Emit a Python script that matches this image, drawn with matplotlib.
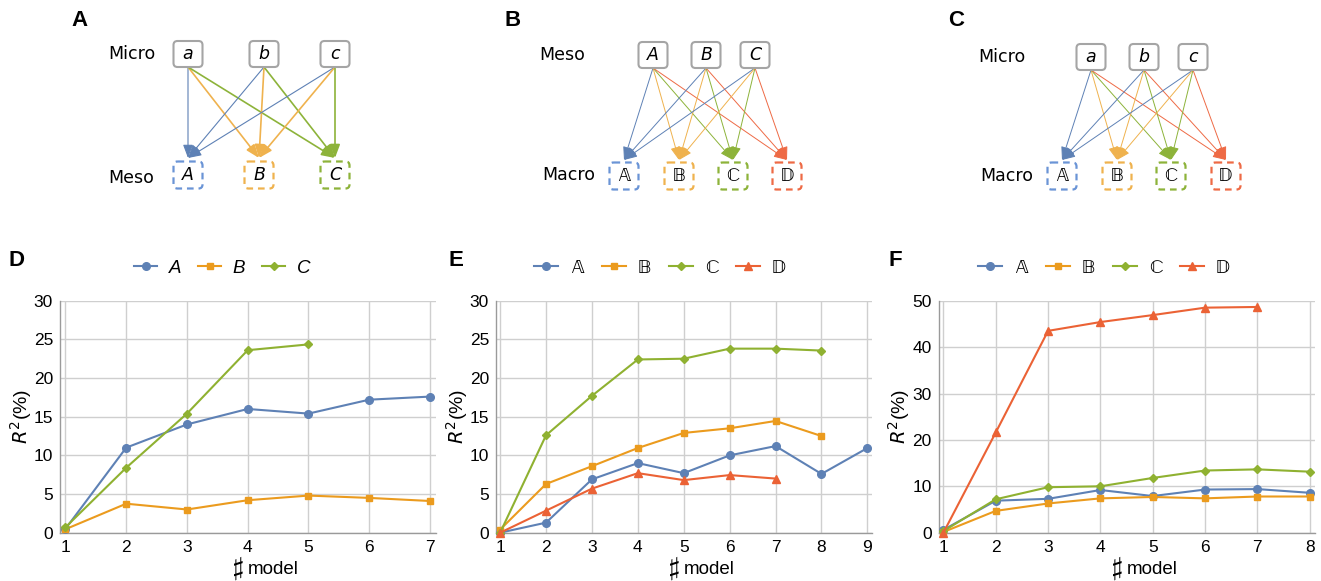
import matplotlib
matplotlib.use("Agg")
import matplotlib.pyplot as plt
from matplotlib.patches import FancyBboxPatch, FancyArrowPatch

# ---------------- data ----------------
D_x = [1, 2, 3, 4, 5, 6, 7]
D_A = [0.5, 11.0, 14.0, 16.0, 15.4, 17.2, 17.6]
D_B = [0.45, 3.75, 3.0, 4.2, 4.8, 4.5, 4.1]
D_C = [0.7, 8.4, 15.4, 23.6, 24.35]

E_x = [1, 2, 3, 4, 5, 6, 7, 8, 9]
E_A = [0.0, 1.3, 6.9, 9.0, 7.7, 10.0, 11.2, 7.6, 10.95]
E_B = [0.4, 6.3, 8.6, 10.95, 12.9, 13.5, 14.45, 12.5]
E_C = [0.0, 12.6, 17.7, 22.4, 22.5, 23.8, 23.8, 23.55]
E_D = [0.0, 2.85, 5.7, 7.7, 6.8, 7.45, 7.0]

F_x = [1, 2, 3, 4, 5, 6, 7, 8]
F_A = [0.6, 6.9, 7.3, 9.2, 7.9, 9.3, 9.4, 8.6]
F_B = [0.15, 4.7, 6.3, 7.4, 7.7, 7.4, 7.8, 7.8]
F_C = [0.35, 7.2, 9.8, 10.0, 11.8, 13.4, 13.65, 13.15]
F_D = [0.0, 21.6, 43.5, 45.4, 46.9, 48.5, 48.65]

legend_italic = ["A", "B", "C"]
legend_bb = ["\U0001D538", "\U0001D539", "\u2102", "\U0001D53B"]
top_micro = ["a", "b", "c"]
top_meso = ["A", "B", "C"]

# ---------------- style ----------------
BLUE = "#5e81b5"
ORANGE = "#eb9b1e"
GREEN = "#8fb131"
RED = "#eb6235"
LBLUE = "#6a94d6"
LORANGE = "#efb24e"
LGREEN = "#8db33a"
LRED = "#ee6a45"
GRID = "#cfcfcf"
SPINE = "#9a9a9a"

W, H = 1321, 581
fig = plt.figure(figsize=(W / 100, H / 100), dpi=100)

chart_font = ["Liberation Sans", "DejaVu Sans"]
bb_font = ["STIXGeneral", "DejaVu Sans"]


def fx(px):
    return px / W


def fy(py):
    return 1 - py / H


def make_chart(left, right, xs, series, ymax, ystep, labels, letter, letter_x, leg_cx, bb):
    ax = fig.add_axes([fx(left), fy(532.7), fx(right - left), (532.7 - 300.7) / H])
    markers = ["o", "s", "D", "^"]
    msizes = [5.5, 4.0, 4.2, 6.0]
    colors = [BLUE, ORANGE, GREEN, RED]
    handles = []
    for i, ys in enumerate(series):
        h, = ax.plot(xs[:len(ys)], ys, color=colors[i], lw=1.5, marker=markers[i],
                     ms=msizes[i], mec=colors[i], mfc=colors[i], clip_on=False, zorder=3)
        handles.append(h)
    ax.set_xlim(xs[0] - 0.09, xs[-1] + 0.1)
    ax.set_ylim(0, ymax)
    ax.set_xticks(xs)
    ax.set_yticks(list(range(0, ymax + 1, ystep)))
    ax.grid(True, color=GRID, lw=1.0)
    ax.set_axisbelow(True)
    for s in ["top", "right"]:
        ax.spines[s].set_visible(False)
    for s in ["left", "bottom"]:
        ax.spines[s].set_color(SPINE)
        ax.spines[s].set_linewidth(1.0)
    ax.tick_params(length=0, labelsize=12.5, pad=5)
    for t in ax.get_xticklabels() + ax.get_yticklabels():
        t.set_family(chart_font)
    ax.set_ylabel(r"$R^2$(%)", fontsize=14, family=chart_font, labelpad=0)
    # x label: sharp sign drawn larger, then "model"
    cx = 0.5
    ax.text(cx - 0.012, -0.16, "\u266f", transform=ax.transAxes, fontsize=18,
            family=["STIXGeneral", "DejaVu Sans"], ha="right", va="center")
    ax.text(cx - 0.0, -0.16, "model", transform=ax.transAxes, fontsize=13.5,
            family=chart_font, ha="left", va="center")
    if bb:
        prop = {"family": bb_font, "size": 14}
    else:
        prop = {"family": chart_font, "size": 13.5, "style": "italic"}
    fig.legend(handles, labels, loc="center", bbox_to_anchor=(fx(leg_cx), fy(268)),
               ncol=len(labels), frameon=False, handlelength=1.25,
               columnspacing=0.9, handletextpad=0.6, prop=prop)
    fig.text(fx(letter_x), fy(260), letter, fontsize=16, fontweight="bold",
             family=chart_font, ha="left", va="center")
    return ax


make_chart(60, 436, D_x, [D_A, D_B, D_C], 30, 5, legend_italic, "D", 8, 222, False)
make_chart(496, 872, E_x, [E_A, E_B, E_C, E_D], 30, 5, legend_bb, "E", 448, 660, True)
make_chart(938.7, 1315, F_x, [F_A, F_B, F_C, F_D], 50, 10, legend_bb, "F", 889, 1104, True)

# ---------------- diagrams ----------------
ov = fig.add_axes([0, 0, 1, 1])
ov.set_xlim(0, W)
ov.set_ylim(H, 0)
ov.axis("off")

diag_font = ["DejaVu Sans"]


def diagram(letter, letter_xy, top_label, top_label_xy, top_nodes, top_xs, top_y,
            bot_label, bot_label_xy, bot_nodes, bot_xs, bot_y, bot_colors, line_colors,
            lws, tip_y, start_dy, bb):
    ov.text(*letter_xy, letter, fontsize=16, fontweight="bold", family=["Liberation Sans"],
            ha="left", va="center")
    ov.text(*top_label_xy, top_label, fontsize=12.5, family=diag_font, ha="left", va="center")
    ov.text(*bot_label_xy, bot_label, fontsize=12.5, family=diag_font, ha="left", va="center")
    bw, bh = 29, 26
    for name, x in zip(top_nodes, top_xs):
        ov.add_patch(FancyBboxPatch((x - bw / 2, top_y - bh / 2), bw, bh,
                                    boxstyle="round,pad=0,rounding_size=4",
                                    fc="white", ec="#a5a5a5", lw=1.5, zorder=4))
        ov.text(x, top_y, name, fontsize=12.5, style="italic", family=diag_font,
                ha="center", va="center", zorder=5)
    for name, x, c in zip(bot_nodes, bot_xs, bot_colors):
        ov.add_patch(FancyBboxPatch((x - bw / 2, bot_y - 13.5), bw, 27,
                                    boxstyle="round,pad=0,rounding_size=4",
                                    fc="none", ec=c, lw=1.6, ls=(0, (3, 2.2)), zorder=4))
        if bb:
            ov.text(x, bot_y, name, fontsize=13.5, family=bb_font,
                    ha="center", va="center", zorder=5)
        else:
            ov.text(x, bot_y, name, fontsize=12.5, style="italic", family=diag_font,
                    ha="center", va="center", zorder=5)
    for tx in top_xs:
        for bx, c, lw in zip(bot_xs, line_colors, lws):
            a = FancyArrowPatch((tx, top_y + start_dy), (bx, tip_y),
                                arrowstyle="-|>,head_length=1.6,head_width=0.6",
                                mutation_scale=5, color=c, lw=lw, shrinkA=0, shrinkB=0,
                                zorder=3)
            ov.add_patch(a)


diagram("A", (71, 20), "Micro", (108, 54), top_micro, [188, 264, 335], 54,
        "Meso", (108, 178), top_meso, [188, 259, 335], 175,
        [LBLUE, LORANGE, LGREEN], [BLUE, LORANGE, LGREEN], [0.8, 1.2, 1.2],
        158, 13, False)

diagram("B", (505, 20), "Meso", (539, 55), top_meso, [653, 706, 755], 55,
        "Macro", (542, 175), legend_bb, [624, 679, 733, 787], 176,
        [LBLUE, LORANGE, LGREEN, LRED], [BLUE, LORANGE, LGREEN, LRED],
        [0.7, 0.7, 0.7, 0.7], 160, 13, True)

diagram("C", (948, 20), "Micro", (978, 57), top_micro, [1091, 1144, 1193], 57,
        "Macro", (980, 176), legend_bb, [1062, 1117, 1171, 1226], 176,
        [LBLUE, LORANGE, LGREEN, LRED], [BLUE, LORANGE, LGREEN, LRED],
        [0.7, 0.7, 0.7, 0.7], 160, 13, True)

fig.savefig("out.png", dpi=100)
